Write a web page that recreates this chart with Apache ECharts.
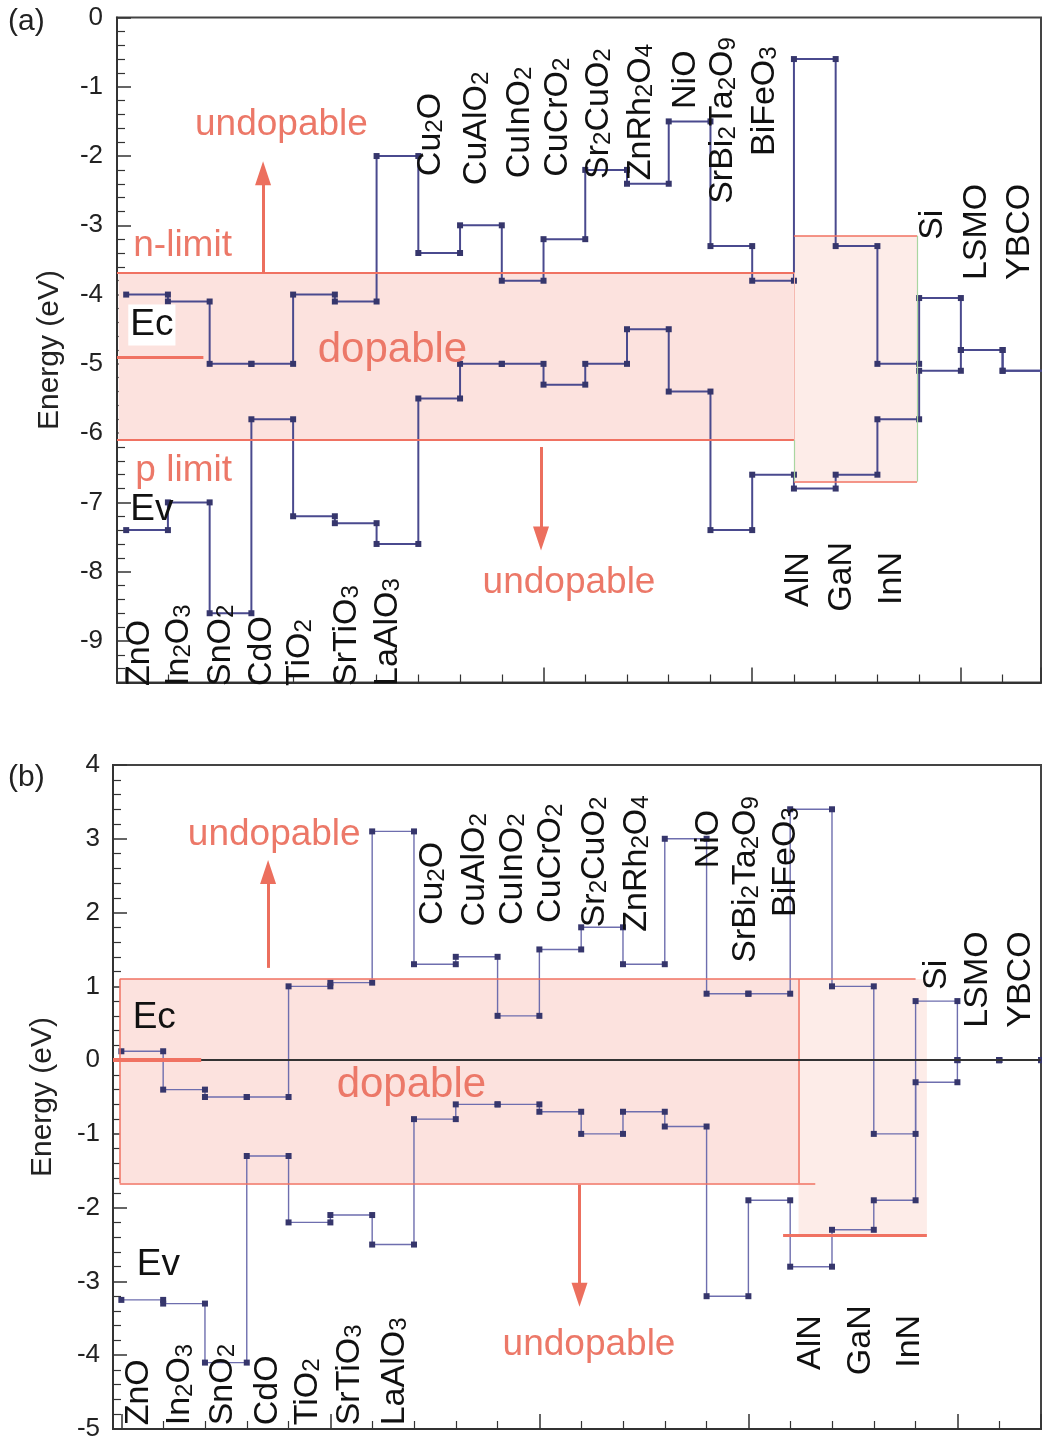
<!DOCTYPE html>
<html>
<head>
<meta charset="utf-8">
<title>Doping limits of oxides</title>
<script src="https://cdn.jsdelivr.net/npm/echarts@6.0.0/dist/echarts.min.js"></script>
<style>
  html, body { margin: 0; padding: 0; background: #fff; }
  #main { width: 1042px; height: 1444px; }
</style>
</head>
<body>
<div id="main"></div>
<script>
// materials, one bin each along x
var materials = ['ZnO', 'In2O3', 'SnO2', 'CdO', 'TiO2', 'SrTiO3', 'LaAlO3', 'Cu2O', 'CuAlO2', 'CuInO2',
  'CuCrO2', 'Sr2CuO2', 'ZnRh2O4', 'NiO', 'SrBi2Ta2O9', 'BiFeO3', 'AlN', 'GaN', 'InN', 'Si', 'LSMO', 'YBCO'];

// (a) band edges below the vacuum level, eV
var ecA = [-4.0, -4.1, -5.0, -5.0, -4.0, -4.1, -2.0, -3.4, -3.0, -3.8, -3.2, -2.2, -2.4, -1.5, -3.3, -3.8,
  -0.6, -3.3, -5.0, -4.05, -4.8, -5.1];
var evA = [-7.4, -7.0, -8.6, -5.8, -7.2, -7.3, -7.6, -5.5, -5.0, -5.0, -5.3, -5.0, -4.5, -5.4, -7.4, -6.6,
  -6.8, -6.6, -5.8, -5.1, -4.8, -5.1];
var nLimitA = -3.68, pLimitA = -6.1;
var nitrideTopA = -3.15, nitrideBotA = -6.7;
var cnlA = -4.9;

// (b) band edges relative to the charge neutrality level, eV
var ecB = [0.12, -0.4, -0.5, -0.5, 1.0, 1.05, 3.1, 1.3, 1.4, 0.6, 1.5, 1.8, 1.3, 3.0, 0.9, 0.9,
  3.4, 1.0, -1.0, 0.8, 0, 0];
var evB = [-3.25, -3.3, -4.1, -1.3, -2.2, -2.1, -2.5, -0.8, -0.6, -0.6, -0.7, -1.0, -0.7, -0.9, -3.2, -1.9,
  -2.8, -2.3, -1.9, -0.3, 0, 0];
var nLimitB = 1.1, pLimitB = -1.67;
var nitrideBotB = -2.38;
var cnlB = 0;

// where the rotated formula labels start (x in bins, y in eV)
var labelXA = [0.33, 1.26, 2.27, 3.25, 4.15, 5.28, 6.26, 7.3, 8.4, 9.43, 10.33, 11.32, 12.32, 13.4, 14.3, 15.29,
  16.12, 17.15, 18.33, 19.33, 20.38, 21.41];
var labelYA = [-9.65, -9.65, -9.65, -9.65, -9.65, -9.65, -9.65, -2.29, -2.42, -2.32, -2.3, -2.33, -2.35, -1.32,
  -2.69, -2.0, -8.51, -8.58, -8.48, -3.21, -3.79, -3.79];
var labelXB = [0.42, 1.4, 2.42, 3.49, 4.46, 5.46, 6.54, 7.45, 8.45, 9.36, 10.27, 11.32, 12.33, 14.05, 14.94, 15.9,
  16.49, 17.69, 18.86, 19.5, 20.48, 21.51];
var labelYB = [-4.95, -4.95, -4.95, -4.95, -4.95, -4.95, -4.95, 1.83, 1.81, 1.83, 1.86, 1.8, 1.74, 2.6,
  1.32, 1.94, -4.2, -4.27, -4.17, 0.95, 0.44, 0.44];

var FONT = '"Liberation Sans", Arial, Helvetica, sans-serif';
var SALMON = '#ec7868';
var RED = '#f07262';

var X_A = [-0.22, 21.92], Y_A = [-9.6, 0];
var X_B = [-0.2, 22.0], Y_B = [-5, 4];

// each material is a flat step from its left edge to its right edge
function steps(vals) {
  var pts = [];
  vals.forEach(function (v, i) {
    pts.push([i, v], [i + 1, v]);
  });
  return pts;
}

function sub(name) {
  return name.replace(/(\D+)/g, '{n|$1}').replace(/(\d+)/g, '{s|$1}');
}

function xAxisFor(g, ext) {
  return {
    type: 'value', gridIndex: g, min: ext[0], max: ext[1], splitNumber: 5,
    axisLine: { onZero: false, lineStyle: { color: '#333', width: 2 } },
    axisTick: { inside: true, length: 15, lineStyle: { color: '#333', width: 1.5 } },
    minorTick: { show: true, splitNumber: 5, length: 8, lineStyle: { color: '#333', width: 1.2 } },
    axisLabel: { show: false },
    splitLine: { show: false }
  };
}

function yAxisFor(g, ext, gap, margin) {
  return {
    type: 'value', gridIndex: g, min: ext[0], max: ext[1], splitNumber: 10,
    name: 'Energy (eV)', nameLocation: 'middle', nameGap: gap,
    nameTextStyle: { fontFamily: FONT, fontSize: 30, color: '#222' },
    axisLine: { onZero: false, lineStyle: { color: '#333', width: 2 } },
    axisTick: { inside: true, length: 14, lineStyle: { color: '#333', width: 1.5 } },
    minorTick: { show: true, splitNumber: 5, length: 8, lineStyle: { color: '#333', width: 1.2 } },
    axisLabel: {
      fontFamily: FONT, fontSize: 26, color: '#222', margin: margin, padding: [7, 0, 0, 0],
      formatter: function (v) {
        return Math.abs(v - Math.round(v)) < 1e-6 ? String(Math.round(v)) : '';
      }
    },
    splitLine: { show: false }
  };
}

function bandSeries(name, vals, g, color, width) {
  return {
    name: name, type: 'line', xAxisIndex: g, yAxisIndex: g,
    data: steps(vals),
    symbol: 'rect', symbolSize: 6, showSymbol: true, showAllSymbol: true,
    lineStyle: { color: color, width: width },
    itemStyle: { color: '#36366c' },
    z: 3, silent: true
  };
}

function seg(x1, y1, x2, y2, color, width) {
  return [{ coord: [x1, y1], lineStyle: { color: color, width: width, type: 'solid' } }, { coord: [x2, y2] }];
}

function arrow(x, y1, y2) {
  return [
    { coord: [x, y1], symbol: 'none', lineStyle: { color: '#ec6f5e', width: 3, type: 'solid' } },
    { coord: [x, y2], symbol: 'triangle', symbolSize: [16, 24] }
  ];
}

var boxA = {
  type: 'line', xAxisIndex: 0, yAxisIndex: 0, data: [], silent: true, z: 1,
  markArea: {
    silent: true,
    itemStyle: { color: '#fce2de' },
    data: [
      [{ coord: [-0.18, nLimitA] }, { coord: [16, pLimitA] }],
      [{ coord: [16, nitrideTopA], itemStyle: { color: '#fdece8' } }, { coord: [18.95, nitrideBotA] }]
    ]
  },
  markLine: {
    silent: true, symbol: 'none', label: { show: false },
    data: [
      seg(X_A[0], nLimitA, 16, nLimitA, RED, 2),
      seg(X_A[0], pLimitA, 16, pLimitA, RED, 2),
      seg(16, nLimitA, 16, pLimitA, '#f6b9b0', 1),
      seg(16, nitrideTopA, 18.95, nitrideTopA, RED, 1.5),
      seg(16, nitrideBotA, 18.95, nitrideBotA, RED, 1.5),
      seg(16, pLimitA, 16, nitrideBotA, '#a9d6a0', 1.2),
      seg(18.95, nitrideTopA, 18.95, nitrideBotA, '#a9d6a0', 1.2),
      seg(X_A[0], cnlA, 1.85, cnlA, RED, 3),
      arrow(3.28, nLimitA, -2.25),
      arrow(9.94, -6.2, -7.52)
    ]
  }
};

var boxB = {
  type: 'line', xAxisIndex: 1, yAxisIndex: 1, data: [], silent: true, z: 1,
  markArea: {
    silent: true,
    itemStyle: { color: '#fce2de' },
    data: [
      [{ coord: [-0.04, nLimitB] }, { coord: [16.2, pLimitB] }],
      [{ coord: [16.2, nLimitB], itemStyle: { color: '#fdece8' } }, { coord: [19.27, nitrideBotB] }]
    ]
  },
  markLine: {
    silent: true, symbol: 'none', label: { show: false },
    data: [
      seg(-0.04, nLimitB, 19.0, nLimitB, RED, 1.5),
      seg(-0.04, pLimitB, 16.6, pLimitB, RED, 1.5),
      seg(-0.04, nLimitB, -0.04, pLimitB, RED, 1.5),
      seg(16.2, nLimitB, 16.2, pLimitB, RED, 1.5),
      seg(15.83, nitrideBotB, 19.27, nitrideBotB, RED, 3),
      seg(X_B[0], 0, X_B[1], 0, '#333', 2),
      seg(X_B[0], cnlB, 1.91, cnlB, RED, 4),
      arrow(3.51, 1.25, 2.55),
      arrow(10.96, -1.69, -3.18)
    ]
  }
};

var option = {
  animation: false,
  backgroundColor: '#fff',
  grid: [
    { left: 117, top: 17.5, width: 924, height: 665, show: true, borderColor: '#444', borderWidth: 2,
      containLabel: false, outerBoundsMode: 'none' },
    { left: 113, top: 765, width: 928, height: 664, show: true, borderColor: '#444', borderWidth: 2,
      containLabel: false, outerBoundsMode: 'none' }
  ],
  xAxis: [xAxisFor(0, X_A), xAxisFor(1, X_B)],
  yAxis: [yAxisFor(0, Y_A, 52, 14), yAxisFor(1, Y_B, 55, 13)],
  series: [
    boxA,
    bandSeries('Ec', ecA, 0, '#4a4a8e', 2),
    bandSeries('Ev', evA, 0, '#4a4a8e', 2),
    boxB,
    bandSeries('Ec', ecB, 1, '#6e6eae', 1.4),
    bandSeries('Ev', evB, 1, '#6e6eae', 1.4)
  ]
};

var chart = echarts.init(document.getElementById('main'));
chart.setOption(option);

// text annotations, placed through the axes
var richStyles = {
  n: { fontFamily: FONT, fontSize: 34, fill: '#111' },
  s: { fontFamily: FONT, fontSize: 24, fill: '#111', verticalAlign: 'bottom', lineHeight: 12 }
};

var notesA = [
  ['undopable', 1.65, -1.55, 37, SALMON],
  ['n-limit', 0.17, -3.3, 37, SALMON],
  ['dopable', 4.59, -4.8, 42, SALMON],
  ['p limit', 0.22, -6.55, 37, SALMON],
  ['undopable', 8.54, -8.16, 37, SALMON],
  ['Ec', 0.05, -4.44, 37, '#111', '#fff'],
  ['Ev', 0.1, -7.11, 37, '#111']
];
var notesB = [
  ['undopable', 1.59, 3.05, 37, SALMON],
  ['Ec', 0.27, 0.57, 37, '#111'],
  ['dopable', 5.15, -0.34, 42, SALMON],
  ['Ev', 0.37, -2.78, 37, '#111'],
  ['undopable', 9.12, -3.86, 37, SALMON]
];

var elements = [];

function addNotes(g, notes) {
  notes.forEach(function (n) {
    var p = chart.convertToPixel({ gridIndex: g }, [n[1], n[2]]);
    var st = {
      text: n[0], fontFamily: FONT, fontSize: n[3], fill: n[4],
      align: 'left', textAlign: 'left', verticalAlign: 'middle', textVerticalAlign: 'middle'
    };
    if (n[5]) {
      st.backgroundColor = n[5];
      st.padding = [2, 2, 2, 2];
    }
    elements.push({ type: 'text', x: p[0], y: p[1], z: 50, silent: true, style: st });
  });
}

function addLabels(g, xs, ys) {
  materials.forEach(function (m, i) {
    var p = chart.convertToPixel({ gridIndex: g }, [xs[i], ys[i]]);
    elements.push({
      type: 'text', x: p[0], y: p[1], rotation: Math.PI / 2, z: 50, silent: true,
      style: {
        text: sub(m), rich: richStyles, fontFamily: FONT, fontSize: 34, fill: '#111',
        align: 'left', textAlign: 'left', verticalAlign: 'middle', textVerticalAlign: 'middle'
      }
    });
  });
}

addNotes(0, notesA);
addNotes(1, notesB);
addLabels(0, labelXA, labelYA);
addLabels(1, labelXB, labelYB);

elements.push({ type: 'text', x: 8, y: 22, z: 50, silent: true,
  style: { text: '(a)', fontFamily: FONT, fontSize: 30, fill: '#222', align: 'left', textAlign: 'left',
    verticalAlign: 'middle', textVerticalAlign: 'middle' } });
elements.push({ type: 'text', x: 8, y: 778, z: 50, silent: true,
  style: { text: '(b)', fontFamily: FONT, fontSize: 30, fill: '#222', align: 'left', textAlign: 'left',
    verticalAlign: 'middle', textVerticalAlign: 'middle' } });

chart.setOption({ graphic: { elements: elements } });
</script>
</body>
</html>
